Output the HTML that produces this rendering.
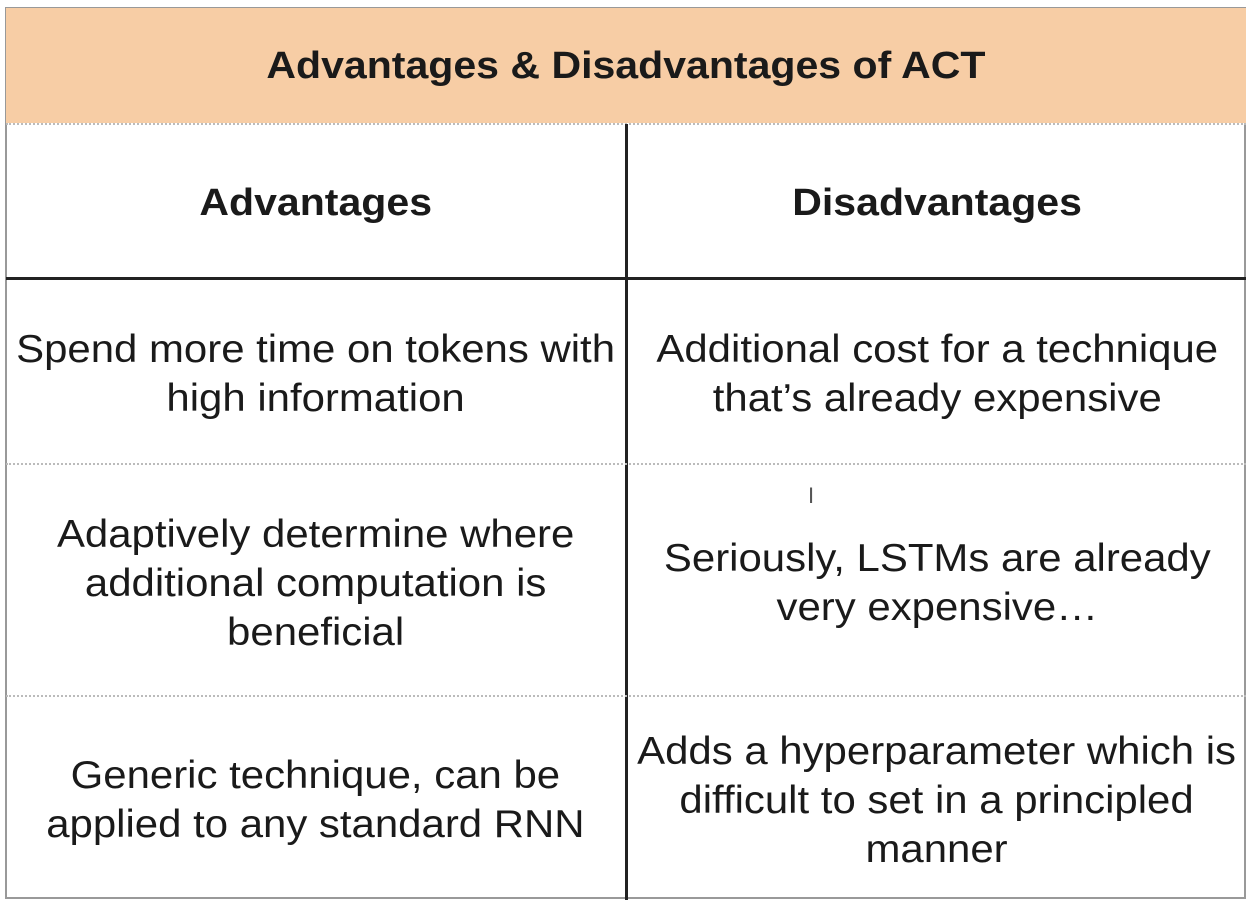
<!DOCTYPE html>
<html><head><meta charset="utf-8"><style>
body{margin:0;width:1252px;height:904px;background:#fff;position:relative;overflow:hidden;font-family:"Liberation Sans",Arial,sans-serif;color:#1a1a1a}
.a{position:absolute}
.cell{position:absolute;display:flex;align-items:center;justify-content:center;text-align:center;font-size:39px;line-height:49px}
.cell span{display:inline-block;transform:scaleX(1.075);white-space:nowrap}
.hd{font-weight:bold;font-size:38px}
.hd span{transform:scaleX(1.08)}
.dot{position:absolute;height:0;border-top:2px dotted #bbb}
</style></head><body>
<div class="a" style="left:5px;top:7px;width:1241px;height:892px;border:2px solid #999;box-sizing:border-box"></div>
<div class="cell hd" style="left:6px;top:10px;width:1240px;height:113px;background:#f7cda5;font-size:38px"><span>Advantages &amp; Disadvantages of ACT</span></div>
<div class="a" style="left:6px;top:8px;width:1240px;height:3px;background:#f7cda5"></div>
<div class="dot" style="left:6px;top:123px;width:1240px"></div>
<div class="a" style="left:625px;top:124px;width:3px;height:776px;background:#222"></div>
<div class="a" style="left:6px;top:277px;width:1240px;height:3px;background:#222"></div>
<div class="cell hd" style="left:6px;top:127px;width:619px;height:152px"><span>Advantages</span></div>
<div class="cell hd" style="left:628px;top:127px;width:618px;height:152px"><span>Disadvantages</span></div>
<div class="cell" style="left:6px;top:282px;width:619px;height:184px"><span>Spend more time on tokens with<br>high information</span></div>
<div class="cell" style="left:628px;top:282px;width:618px;height:184px"><span>Additional cost for a technique<br>that’s already expensive</span></div>
<div class="dot" style="left:6px;top:463px;width:1240px"></div>
<div class="cell" style="left:6px;top:467px;width:619px;height:232px"><span>Adaptively determine where<br>additional computation is<br>beneficial</span></div>
<div class="cell" style="left:628px;top:467px;width:618px;height:232px"><span>Seriously, LSTMs are already<br>very expensive…</span></div>
<div class="a" style="left:808px;top:483px;font-size:22px;color:#555">I</div>
<div class="dot" style="left:6px;top:695px;width:1240px"></div>
<div class="cell" style="left:6px;top:699px;width:619px;height:202px"><span>Generic technique, can be<br>applied to any standard RNN</span></div>
<div class="cell" style="left:628px;top:699px;width:618px;height:202px"><span>Adds a hyperparameter which is<br>difficult to set in a principled<br>manner</span></div>
</body></html>
